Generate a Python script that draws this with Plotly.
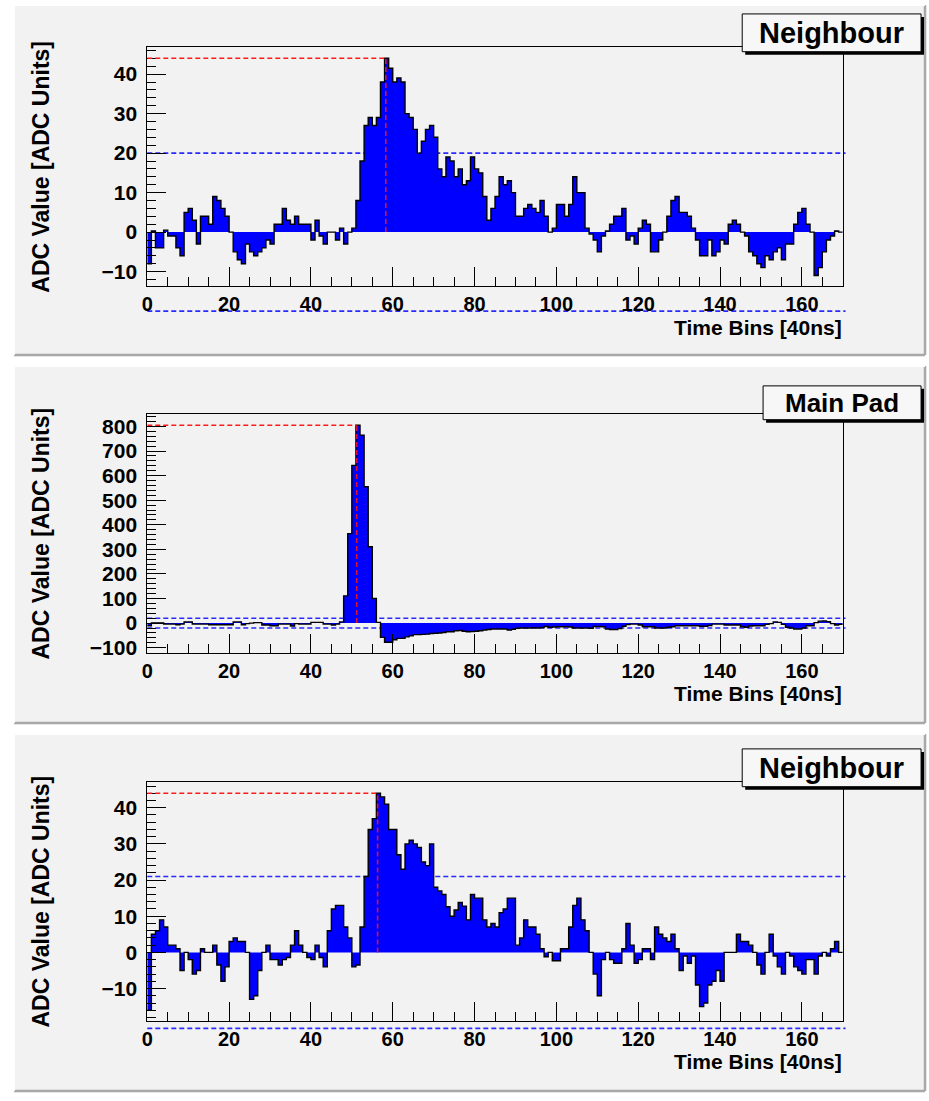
import plotly.graph_objects as go

W, H = 929, 1101

# ---------------------------------------------------------------- data
bin_edges = list(range(171))          # 170 time bins, edges 0..170
x_tick_vals = list(range(0, 161, 20))

neighbour_top = [
    -8, 0.3, -4, -4, 0.5, -1, -1, -4, -6, 5,
    6, 3, -3, 4, 4, 2, 9, 8, 6, 4,
    0, -5, -7, -8, -3, -5, -6, -5, -4, -2,
    -3, 2, 2, 6, 3, 2, 4, 2, 2, 2,
    -2, 3, -1, -3, 0, 0, -2, 1, -3, 0,
    1, 8, 18, 27, 29, 27, 29, 38, 44, 41.5,
    38, 39, 38, 30, 29, 26, 20, 23, 26, 27,
    24, 16, 14, 19, 18, 14, 16, 12, 13, 19,
    16, 15, 9, 3, 6, 9, 14, 12, 13, 10,
    4, 4, 6, 7, 6, 5, 8, 4, 0, 1,
    7, 7, 4, 7, 14, 10, 10, 1, -0.5, -2,
    -5, -1, 0.3, 2, 4, 4, 6, -2, -1, -3,
    1, 3, 2, -5, -5, -2, 0, 4, 8, 9,
    5, 5, 4, 1, -2, -6, -6, -2, -6, -5,
    -2, -3, 2, 3, 2, 0, -1, -5, -6, -8,
    -9, -6, -7, -5, -4, -7, -3, -3, 2, 5,
    6, 2, 0, -11, -9, -5, -2, -1, 0.3, 0,
]

main_pad = [
    -11, 1, 1, 1, -4, -4, -4, -7, -4, 5,
    5, -4, -4, -4, -4, -7, -7, -7, -7, -7,
    -7, 5, 5, -7, -2, 0, 2, 2, -8, -8,
    -11, -11, -4, -4, -4, -12, -2, -4, -4, -4,
    3, 3, 3, -4, -4, -8, -4, 5, 111, 364,
    642, 805, 765, 555, 311, 100, 3, -58, -78, -78,
    -68, -62, -62, -56, -52, -47, -47, -46, -45, -42,
    -41, -40, -38, -35, -35, -31, -30, -33, -35, -34,
    -33, -31, -28, -26, -24, -24, -24, -24, -28, -25,
    -21, -20, -20, -20, -19, -20, -18, -14, -17, -16,
    -15, -15, -15, -16, -20, -20, -20, -20, -21, -14,
    -14, -15, -24, -26, -26, -22, -13, -6, -4, -4,
    -8, -15, -15, -15, -20, -20, -20, -17, -15, -11,
    -11, -11, -11, -11, -11, -13, -13, -10, -4, -4,
    -4, -8, -8, -8, -8, -15, -17, -12, -11, -11,
    -11, -5, -2, 5, 3, -5, -17, -20, -24, -24,
    -20, -11, -11, 2, 8, 9, 6, -2, -8, -5,
]

neighbour_bottom = [
    -16, 5, 6, 9, 7, 2, 2, 1, -5, 0,
    -2, -6, -5, 1, 0, 0, 2, -3.5, -8, -4,
    3, 4, 3, 3, 0, -13, -12, -5, 0, 2,
    -2, -2, -3.5, -2, -1.4, 2, 6, 2, 0, -1.4,
    -2, 2, -1.4, -4, 6, 12, 13, 13, 7, 4,
    -4, -3.5, 7, 21, 34, 37, 44, 43, 41, 34,
    34, 27, 23, 30, 31, 30, 29, 25, 24, 30,
    18, 17, 16, 12.6, 10, 11.7, 13.8, 12.8, 9, 16,
    15, 15, 9, 7, 8, 7, 11, 12, 15, 15,
    2, 4, 9, 7, 7, 5, 1, -1.2, 0, -2.3,
    -2.3, 1, 1, 7, 13, 15, 9, 6, 0, -6,
    -12, -2, 0, -2, -3, -3, 1, 8, 2, -3,
    -2, 1, 1, -2, 7, 5, 4, 3, 5, 1,
    -5, -1, -3, -1, -9, -15, -14, -9, -8, -5,
    -8, 0, 0, 0, 5, 3, 3, 2, 0, -3.5,
    -6, 0, 5, -1, -4, -6, 0, -1, -4, -5,
    -6, -2, -2, -6, -1, 0, -1, 1, 3, 0,
]

pad_titles = ["Neighbour", "Main Pad", "Neighbour"]
peak_time = [58.3, 51.2, 56.3]
noise_threshold = [20, 20, 21]
y_major_step = [10, 100, 10]
y_minor_step = [2, 20, 2]

x_title = "Time Bins [40ns]"
y_title = "ADC Value [ADC Units]"

series = [neighbour_top, main_pad, neighbour_bottom]

# ---------------------------------------------------------------- geometry (pixels)
FRAME_X = (142.2, 842.2)
FRAME_Y = [(47.7, 288.0), (416.7, 656.7), (786.7, 1026.7)]
PAD_TOP = [5, 368, 738]
PAD_BOTTOM = [357, 727, 1097]
PAD_X = (8, 925)
TITLE_BOX = [(741, 14, 921, 52), (762, 388, 921, 422), (741, 753, 921, 791)]
TITLE_SIZE = [29, 26, 29]

PAD_GRAY = "#f2f2f2"
FONT = "Liberation Sans"


def px(x):
    return x / W


def py(y):
    return 1 - y / H


fig = go.Figure()
shapes = []
annotations = []

for i in range(3):
    # pad background with bevelled border
    t, b = PAD_TOP[i], PAD_BOTTOM[i]
    shapes.append(dict(type="rect", xref="paper", yref="paper", layer="below",
                       x0=px(PAD_X[0]), x1=px(PAD_X[1]), y0=py(b), y1=py(t),
                       fillcolor=PAD_GRAY, line=dict(width=0)))
    shapes.append(dict(type="line", xref="paper", yref="paper", layer="below",
                       x0=px(PAD_X[0]), x1=px(PAD_X[1]), y0=py(b), y1=py(b),
                       line=dict(color="#a8a8a8", width=2.5)))
    shapes.append(dict(type="line", xref="paper", yref="paper", layer="below",
                       x0=px(PAD_X[1]), x1=px(PAD_X[1]), y0=py(b), y1=py(t),
                       line=dict(color="#a8a8a8", width=2.5)))
    shapes.append(dict(type="line", xref="paper", yref="paper", layer="below",
                       x0=px(PAD_X[0]), x1=px(PAD_X[1]), y0=py(t), y1=py(t),
                       line=dict(color="#ffffff", width=2)))
    shapes.append(dict(type="line", xref="paper", yref="paper", layer="below",
                       x0=px(PAD_X[0]), x1=px(PAD_X[0]), y0=py(b), y1=py(t),
                       line=dict(color="#ffffff", width=2)))

for i, vals in enumerate(series):
    n = "" if i == 0 else str(i + 1)
    xa, ya = "x" + n, "y" + n
    lo, hi = min(vals), max(vals)
    span = hi - lo
    y_range = [lo - 0.05 * span, hi + 0.05 * span]

    # noise thresholds, drawn under the histogram (lower one may sit below the frame)
    for level in (noise_threshold[i], -noise_threshold[i]):
        frac = (level - y_range[0]) / (y_range[1] - y_range[0])
        shapes.append(dict(type="line", xref=xa + " domain", yref=ya + " domain",
                           layer="below", x0=0, x1=1.004, y0=frac, y1=frac,
                           line=dict(color="#2a2aff", width=1.6, dash="5px,3px")))

    # histogram: filled step outline
    fig.add_trace(go.Scatter(
        x=bin_edges, y=vals + [vals[-1]], mode="lines",
        line=dict(shape="hv", color="black", width=1.4),
        fill="tozeroy", fillcolor="#0000ff",
        xaxis=xa, yaxis=ya, showlegend=False, hoverinfo="skip"))

    # peak markers
    peak = max(vals)
    shapes.append(dict(type="line", xref=xa, yref=ya, layer="above",
                       x0=0, x1=peak_time[i], y0=peak, y1=peak,
                       line=dict(color="#ff1a1a", width=1.6, dash="5px,3px")))
    shapes.append(dict(type="line", xref=xa, yref=ya, layer="above",
                       x0=peak_time[i], x1=peak_time[i], y0=0, y1=peak,
                       line=dict(color="#e01030", width=1.6, dash="5px,3px")))

    f0, f1 = FRAME_Y[i]
    fig.update_layout(**{
        ("xaxis" + n): dict(
            domain=[px(FRAME_X[0]), px(FRAME_X[1])], anchor=ya, range=[0, 170],
            tickmode="array", tickvals=x_tick_vals,
            ticks="inside", ticklen=19, tickwidth=1, tickcolor="black",
            minor=dict(dtick=5, tick0=0, ticks="inside", ticklen=9,
                       tickwidth=1, tickcolor="black", showgrid=False),
            showline=True, mirror=True, linecolor="black", linewidth=1,
            showgrid=False, zeroline=False, fixedrange=True,
            tickfont=dict(family=FONT, size=20, color="black", weight="bold"),
            ticklabelstandoff=0),
        ("yaxis" + n): dict(
            domain=[py(f1), py(f0)], anchor=xa, range=y_range,
            tick0=0, dtick=y_major_step[i],
            ticks="inside", ticklen=19, tickwidth=1, tickcolor="black",
            minor=dict(dtick=y_minor_step[i], tick0=0, ticks="inside", ticklen=9,
                       tickwidth=1, tickcolor="black", showgrid=False),
            showline=True, mirror=True, linecolor="black", linewidth=1,
            showgrid=False, zeroline=False, fixedrange=True,
            tickfont=dict(family=FONT, size=21, color="black", weight="bold"),
            ticklabelstandoff=5),
    })

    # axis titles
    annotations.append(dict(xref="paper", yref="paper", x=px(FRAME_X[1] + 1), y=py(f1 + 41),
                            xanchor="right", yanchor="middle", showarrow=False,
                            text=x_title,
                            font=dict(family=FONT, size=21, color="black", weight="bold")))
    annotations.append(dict(xref="paper", yref="paper", x=px(35), y=py((f0 + f1) / 2),
                            xanchor="center", yanchor="middle", showarrow=False,
                            textangle=-90, text=y_title,
                            font=dict(family=FONT, size=23, color="black", weight="bold")))

    # pad title box with drop shadow
    bx0, by0, bx1, by1 = TITLE_BOX[i]
    shapes.append(dict(type="rect", xref="paper", yref="paper", layer="above",
                       x0=px(bx0 + 3), x1=px(bx1 + 3), y0=py(by1 + 3), y1=py(by0 + 3),
                       fillcolor="black", line=dict(width=0)))
    shapes.append(dict(type="rect", xref="paper", yref="paper", layer="above",
                       x0=px(bx0), x1=px(bx1), y0=py(by1), y1=py(by0),
                       fillcolor="#f7f7f7", line=dict(color="black", width=1)))
    annotations.append(dict(xref="paper", yref="paper", x=px((bx0 + bx1) / 2),
                            y=py((by0 + by1) / 2), xanchor="center", yanchor="middle",
                            showarrow=False, text=pad_titles[i],
                            font=dict(family=FONT, size=TITLE_SIZE[i], color="black",
                                      weight="bold")))

fig.update_layout(
    width=W, height=H, margin=dict(l=0, r=0, t=0, b=0),
    paper_bgcolor="white", plot_bgcolor=PAD_GRAY,
    shapes=shapes, annotations=annotations, showlegend=False,
)

fig.write_html("out.html", config={"displayModeBar": False})
